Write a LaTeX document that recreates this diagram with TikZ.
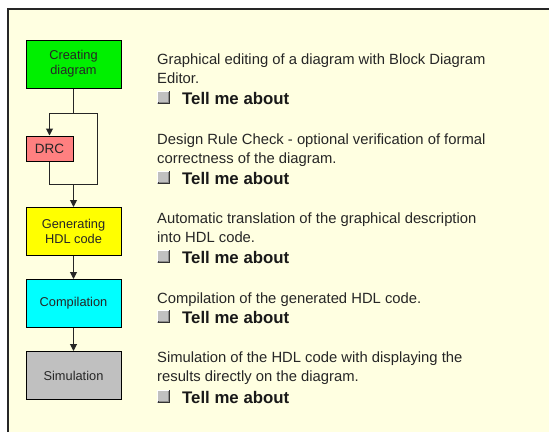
\documentclass[tikz,border=0pt]{standalone}
\usepackage{fontspec}
\setmainfont{Liberation Sans}
\usetikzlibrary{arrows.meta}
\definecolor{cream}{HTML}{FFFFE1}
\definecolor{bgreen}{HTML}{00F000}
\definecolor{drcred}{HTML}{FF8080}
\definecolor{byellow}{HTML}{FFFF00}
\definecolor{bcyan}{HTML}{00FFFF}
\definecolor{bgray}{HTML}{C0C0C0}
\begin{document}
\begin{tikzpicture}[x=1pt,y=-1pt,
  stagebox/.style={draw=black,line width=1pt,minimum width=95pt,minimum height=48pt,inner sep=0pt,align=center,font=\fontsize{12.8}{15}\selectfont,text=black!85},
  flow/.style={line width=1pt,draw=black!85},
  arr/.style={flow,-{Triangle[length=7pt,width=7pt]}},
  desc/.style={anchor=base west,inner sep=0pt,align=left,font=\fontsize{14.8}{18.5}\selectfont,text=black!85},
  tell/.style={anchor=base west,inner sep=0pt,font=\fontsize{16.8}{18}\selectfont\bfseries,text=black!90}
]
\useasboundingbox (0,0) rectangle (549,432);
\fill[white] (0,0) rectangle (549,432);
\fill[cream] (8,9) rectangle (549,432);
\draw[line width=2pt,black!85] (8,432) -- (8,9) -- (549,9);

% stage boxes
\node[stagebox,fill=bgreen] (create) at (73.5,64) {Creating\\diagram};
\node[stagebox,fill=drcred,minimum width=47pt,minimum height=25pt,font=\fontsize{13.5}{15}\selectfont] (drc) at (49.5,148.5) {DRC};
\node[stagebox,fill=byellow] (gen) at (73.5,231.5) {Generating\\HDL code};
\node[stagebox,fill=bcyan] (comp) at (73.5,303.5) {Compilation};
\node[stagebox,fill=bgray] (sim) at (73.5,375.5) {Simulation};

% connectors
\coordinate (split) at (73.5,113);
\coordinate (splitL) at (49.5,113);
\coordinate (splitR) at (97,113);
\coordinate (join) at (73.5,184);
\coordinate (joinL) at (49.5,184);
\coordinate (joinR) at (97,184);
\draw[flow] (create.south) -- (split);
\draw[flow] (splitR) -- (splitL);
\draw[arr] (splitL) -- (drc.north);
\draw[flow] (splitR) -- (joinR) -- (joinL) -- (drc.south);
\draw[arr] (join) -- (gen.north);
\draw[arr] (gen.south) -- (comp.north);
\draw[arr] (comp.south) -- (sim.north);

% checkbox style
\tikzset{chk/.pic={
  \fill[bgray] (0,0) rectangle (13,13);
  \draw[white,line width=1pt] (0.5,12.5) -- (0.5,0.5) -- (12.5,0.5);
  \draw[black!80,line width=1.2pt] (0.6,12.4) -- (12.4,12.4) -- (12.4,0.6);
  \draw[black!45,line width=0.8pt] (1.5,11.4) -- (11.4,11.4) -- (11.4,1.5);
}}

% descriptions (base anchor = last line)
\node[desc] (d1) at (157,83) {Graphical editing of a diagram with Block Diagram\\Editor.};
\pic at (157,90.5) {chk};
\node[tell] (t1) at (182,104) {Tell me about};

\node[desc] (d2) at (157,163) {Design Rule Check - optional verification of formal\\correctness of the diagram.};
\pic at (157,170.5) {chk};
\node[tell] (t2) at (182,184) {Tell me about};

\node[desc] (d3) at (157,242) {Automatic translation of the graphical description\\into HDL code.};
\pic at (157,249.5) {chk};
\node[tell] (t3) at (182,263) {Tell me about};

\node[desc] (d4) at (157,303) {Compilation of the generated HDL code.};
\pic at (157,309.5) {chk};
\node[tell] (t4) at (182,323) {Tell me about};

\node[desc] (d5) at (157,381) {Simulation of the HDL code with displaying the\\results directly on the diagram.};
\pic at (157,389.5) {chk};
\node[tell] (t5) at (182,403) {Tell me about};
\end{tikzpicture}
\end{document}
